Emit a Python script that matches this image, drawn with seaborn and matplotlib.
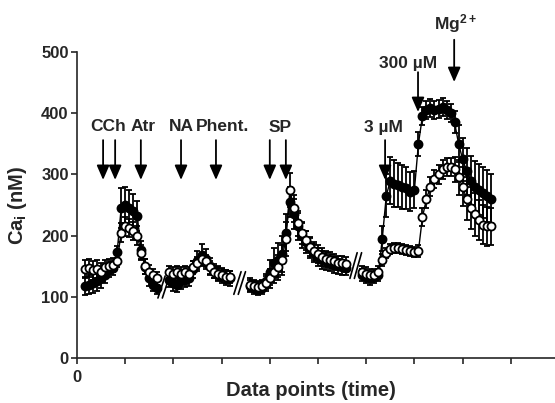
import numpy as np
import pandas as pd
import seaborn as sns
import matplotlib
matplotlib.use('Agg')
from matplotlib import pyplot as plt

# start index (data point) of each recorded segment
seg_starts = [2, 23, 43, 71]

# segment 1: CCh / Atr
filled_1 = [118, 120, 122, 125, 130, 135, 145, 147, 173, 245, 250, 245, 240, 232, 176, 149, 130, 120, 115]
open_1 = [145, 147, 143, 145, 140, 148, 150, 152, 158, 205, 215, 212, 208, 200, 172, 150, 140, 135, 130]
filled_err_1 = [15, 15, 15, 15, 15, 12, 12, 12, 10, 32, 30, 30, 28, 25, 15, 12, 12, 10, 10]
open_err_1 = [15, 15, 15, 15, 15, 12, 12, 12, 10, 15, 15, 15, 15, 15, 12, 12, 12, 10, 10]

# segment 2: NA / Phent.
filled_2 = [128, 122, 120, 125, 128, 130, 145, 158, 168, 162, 150, 142, 138, 135, 132, 130]
open_2 = [140, 138, 140, 138, 140, 138, 148, 155, 162, 158, 148, 140, 138, 135, 133, 132]
filled_err_2 = [12, 12, 12, 12, 12, 12, 14, 16, 18, 16, 14, 12, 12, 12, 12, 12]
open_err_2 = [10] * 16

# segment 3: SP
filled_3 = [118, 115, 113, 115, 125, 140, 155, 160, 170, 205, 255, 235, 215, 200, 190, 180,
            172, 165, 160, 158, 155, 152, 150, 148, 147]
open_3 = [120, 118, 116, 118, 122, 130, 140, 148, 160, 195, 275, 245, 220, 205, 192, 182,
          175, 170, 165, 162, 160, 158, 155, 155, 153]
filled_err_3 = [10, 10, 10, 10, 12, 20, 25, 28, 30, 30, 25, 25, 22, 20, 18, 16,
                15, 15, 14, 14, 13, 13, 12, 12, 12]
open_err_3 = [10, 10, 10, 10, 12, 15, 18, 20, 25, 28, 28, 22, 20, 18, 16, 15,
              15, 14, 14, 13, 13, 12, 12, 12, 12]

# segment 4: 3 uM, 300 uM, Mg2+
filled_4 = [135, 132, 130, 132, 135, 195, 265, 290, 285, 283, 280, 278, 272, 275, 350, 395,
            405, 408, 405, 407, 410, 405, 400, 385, 350, 325, 305, 290, 280, 275, 270, 265, 260]
open_4 = [140, 138, 135, 135, 140, 160, 172, 178, 180, 180, 178, 176, 175, 173, 175, 230,
          260, 280, 292, 300, 308, 312, 312, 308, 295, 280, 260, 245, 235, 225, 218, 215, 215]
filled_err_4 = [10, 10, 10, 10, 10, 20, 35, 38, 38, 36, 36, 34, 32, 30, 20, 15,
                15, 15, 15, 15, 15, 15, 15, 18, 30, 35, 38, 40, 42, 42, 42, 42, 40]
open_err_4 = [10, 10, 10, 10, 10, 10, 8, 8, 8, 8, 8, 8, 8, 8, 10, 15,
              15, 15, 15, 15, 15, 15, 15, 20, 28, 32, 35, 35, 35, 33, 32, 32, 30]

# stimulus arrows: x, shaft top, tip
arrow_x = [6.5, 9.5, 15.9, 25.9, 34.6, 48.0, 52.0, 76.7, 84.9, 93.9]
arrow_top = [356, 356, 356, 356, 356, 356, 356, 356, 467, 520]
arrow_tip = [291, 291, 291, 291, 291, 291, 291, 291, 402, 451]
labels = ['CCh', 'Atr', 'NA', 'Phent.', 'SP', '3 µM', '300 µM', 'Mg$^{2+}$']
label_x = [7.7, 16.4, 25.9, 36.3, 50.5, 76.2, 82.4, 94.2]
label_y = [378, 378, 378, 378, 377, 376, 482, 547]

# axis breaks (x centre, low, high)
breaks_x = [21.6, 40.5, 69.4]
breaks_lo = [98, 104, 130]
breaks_hi = [134, 141, 172]

filled = [filled_1, filled_2, filled_3, filled_4]
opened = [open_1, open_2, open_3, open_4]
filled_err = [filled_err_1, filled_err_2, filled_err_3, filled_err_4]
open_err = [open_err_1, open_err_2, open_err_3, open_err_4]

rows = []
for i, start in enumerate(seg_starts):
    for name, vals, errs in [('filled', filled[i], filled_err[i]), ('open', opened[i], open_err[i])]:
        for j, (v, e) in enumerate(zip(vals, errs)):
            rows.append({'x': start + j, 'ca': v, 'err': e, 'series': name, 'seg': i})
df = pd.DataFrame(rows)

sns.set_style('ticks')
plt.rcParams['font.family'] = ['Liberation Sans', 'DejaVu Sans']
plt.rcParams['font.weight'] = 'bold'
plt.rcParams['mathtext.fontset'] = 'custom'
plt.rcParams['mathtext.rm'] = 'Liberation Sans:bold'
plt.rcParams['mathtext.it'] = 'Liberation Sans:bold'
plt.rcParams['mathtext.bf'] = 'Liberation Sans:bold'

fig = plt.figure(figsize=(5.55, 4.03), dpi=100)
ax = fig.add_axes([0.1387, 0.1117, 0.8613, 0.7593])

for name, face, z in [('filled', 'black', 3), ('open', 'white', 4)]:
    sub = df[df.series == name]
    ax.errorbar(sub.x, sub.ca, yerr=sub.err, fmt='none', ecolor='black',
                elinewidth=1.3, capsize=2.4, capthick=1.3, zorder=z - 1)
    sns.lineplot(data=sub, x='x', y='ca', units='seg', estimator=None, sort=False,
                 color='black', lw=1.0, marker='o', markersize=5.8,
                 markerfacecolor=face, markeredgecolor='black', markeredgewidth=1.3,
                 legend=False, ax=ax, zorder=z)

# break marks
for bx, lo, hi in zip(breaks_x, breaks_lo, breaks_hi):
    for off in (-0.55, 0.55):
        ax.plot([bx + off - 0.9, bx + off + 0.9], [lo, hi], color='black', lw=1.2)

for x, top, tip in zip(arrow_x, arrow_top, arrow_tip):
    ax.annotate('', xy=(x, tip), xytext=(x, top), annotation_clip=False,
                arrowprops=dict(arrowstyle='-|>,head_length=0.55,head_width=0.24',
                                mutation_scale=16, lw=1.3, color='black',
                                shrinkA=0, shrinkB=0))

for s, x, y in zip(labels, label_x, label_y):
    ax.text(x, y, s, ha='center', va='center', fontsize=12.5, fontweight='bold')

ax.set_xlim(0, 119)
ax.set_ylim(0, 500)
ax.set_yticks(np.arange(0, 501, 100))
ax.set_xticks(np.arange(0, 119, 12))
ax.set_xticklabels(['0'] + [''] * 9)
sns.despine(ax=ax)
for sp in ['left', 'bottom']:
    ax.spines[sp].set_linewidth(1.2)
ax.tick_params(direction='out', length=4, width=1.2, labelsize=12, pad=2)
ax.tick_params(axis='x', pad=5)

ax.set_xlabel('Data points (time)', fontsize=14.5, fontweight='bold')
ax.set_ylabel(r'Ca$_\mathrm{i}$ (nM)', fontsize=14.5, fontweight='bold')
ax.xaxis.set_label_coords(0.49, -0.075)
ax.yaxis.set_label_coords(-0.10, 0.5)

fig.savefig('out.png', dpi=100)
